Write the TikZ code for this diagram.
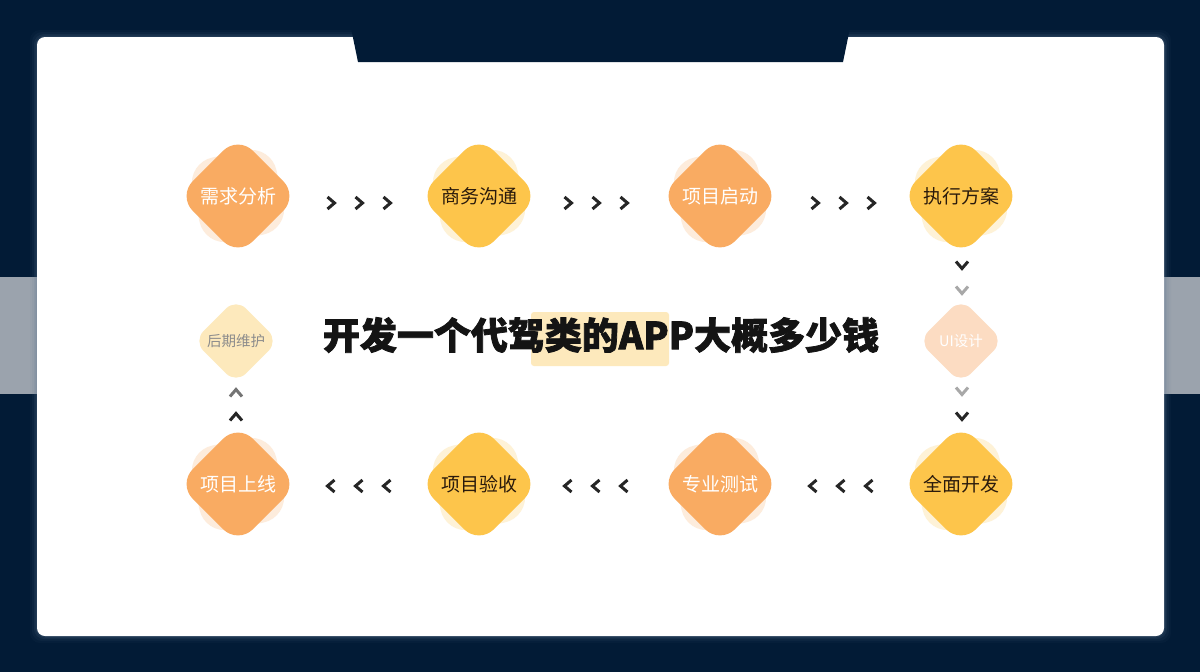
\documentclass[tikz,border=0pt]{standalone}
\usepackage{fontspec}
\newfontfamily\cjk{Noto Sans CJK SC}
\newfontfamily\cjkheavy{Noto Sans CJK SC}[BoldFeatures={FakeBold=2}]
\definecolor{navy}{HTML}{021B36}
\definecolor{glow}{HTML}{5A7390}
\definecolor{band}{HTML}{9BA3AD}
\definecolor{orng}{HTML}{F9AB62}
\definecolor{yllw}{HTML}{FDC54B}
\definecolor{paley}{HTML}{FDE9BC}
\definecolor{paleo}{HTML}{FCDCC2}
\definecolor{darktxt}{HTML}{2A1A0C}
\definecolor{chevd}{HTML}{262626}
\definecolor{chevg}{HTML}{A8A8A8}
\tikzset{
  diam/.style={rectangle, rounded corners=21pt, minimum width=85pt, minimum height=85pt, rotate=45, inner sep=0pt},
  smalldiam/.style={rectangle, rounded corners=14pt, minimum width=60pt, minimum height=60pt, rotate=45, inner sep=0pt},
  faint/.style={rectangle, rounded corners=26pt, minimum width=86pt, minimum height=86pt, inner sep=0pt, rotate=12, opacity=0.22},
  lbl/.style={font=\cjk\fontsize{19}{19}\selectfont, inner sep=0pt},
  slbl/.style={font=\cjk\fontsize{14.5}{14.5}\selectfont, inner sep=0pt},
  chev/.style={line width=3pt, line join=miter},
  chevr/.pic={\draw[chev] (-3.5,-6) -- (3.5,0) -- (-3.5,6);},
  chevl/.pic={\draw[chev] (3.5,-6) -- (-3.5,0) -- (3.5,6);},
  chevdn/.pic={\draw[chev] (-6,-3.5) -- (0,3.5) -- (6,-3.5);},
  chevup/.pic={\draw[chev] (-6,3.5) -- (0,-3.5) -- (6,3.5);}
}
\begin{document}
\begin{tikzpicture}[x=1pt,y=-1pt]
\useasboundingbox (0,0) rectangle (1200,672);
\fill[navy] (0,0) rectangle (1200,672);
\fill[band] (0,277) rectangle (1200,394);
% glow around card
\foreach \g/\o in {7/0.05,5/0.08,3/0.12,1.5/0.18}{
  \fill[glow, opacity=\o, rounded corners=10pt] (37-\g,37-\g) rectangle (1164+\g,636+\g);
}
\fill[white, rounded corners=8pt] (37,37) rectangle (1164,636);
\fill[navy] (351,28) -- (850,28) -- (843,62) -- (358,62) -- cycle;

% faded box behind title
\fill[paley, rounded corners=3pt] (531,312) rectangle (669,366);

% row 1
\node[faint, fill=orng] (f1) at (238,196) {};
\node[diam, fill=orng] (d1) at (238,196) {};
\node[lbl, text=white] (t1) at (d1.center) {需求分析};
\node[faint, fill=yllw] (f2) at (479,196) {};
\node[diam, fill=yllw] (d2) at (479,196) {};
\node[lbl, text=darktxt] (t2) at (d2.center) {商务沟通};
\node[faint, fill=orng] (f3) at (720,196) {};
\node[diam, fill=orng] (d3) at (720,196) {};
\node[lbl, text=white] (t3) at (d3.center) {项目启动};
\node[faint, fill=yllw] (f4) at (961,196) {};
\node[diam, fill=yllw] (d4) at (961,196) {};
\node[lbl, text=darktxt] (t4) at (d4.center) {执行方案};

% row 3
\node[faint, fill=orng] (f8) at (238,484) {};
\node[diam, fill=orng] (d8) at (238,484) {};
\node[lbl, text=white] (t8) at (d8.center) {项目上线};
\node[faint, fill=yllw] (f7) at (479,484) {};
\node[diam, fill=yllw] (d7) at (479,484) {};
\node[lbl, text=darktxt] (t7) at (d7.center) {项目验收};
\node[faint, fill=orng] (f6) at (720,484) {};
\node[diam, fill=orng] (d6) at (720,484) {};
\node[lbl, text=white] (t6) at (d6.center) {专业测试};
\node[faint, fill=yllw] (f5) at (961,484) {};
\node[diam, fill=yllw] (d5) at (961,484) {};
\node[lbl, text=darktxt] (t5) at (d5.center) {全面开发};

% middle faded nodes
\node[smalldiam, fill=paley] (d9) at (236,341) {};
\node[slbl, text=black!45] (t9) at (d9.center) {后期维护};
\node[smalldiam, fill=paleo] (d10) at (961,341) {};
\node[slbl, text=white] (t10) at (d10.center) {UI设计};

% title
\node[font=\cjkheavy\bfseries\fontsize{37}{37}\selectfont, text=black!92, inner sep=0pt] (title) at (601,335) {开发一个代驾类的APP大概多少钱};

% chevrons row 1
\foreach \x in {331,359,387,568,596,624,815,843,871}{
  \pic[draw=chevd] at (\x,203) {chevr};
}
% chevrons row 3
\foreach \x in {331,359,387,568,596,624,813,841,869}{
  \pic[draw=chevd] at (\x,486) {chevl};
}
% right column
\pic[draw=chevd] at (962,265) {chevdn};
\pic[draw=chevg] at (962,290) {chevdn};
\pic[draw=chevg] at (962,391) {chevdn};
\pic[draw=chevd] at (962,416) {chevdn};
% left column
\pic[draw=chevg!60!chevd] at (236,393) {chevup};
\pic[draw=chevd] at (236,417) {chevup};
\end{tikzpicture}
\end{document}
